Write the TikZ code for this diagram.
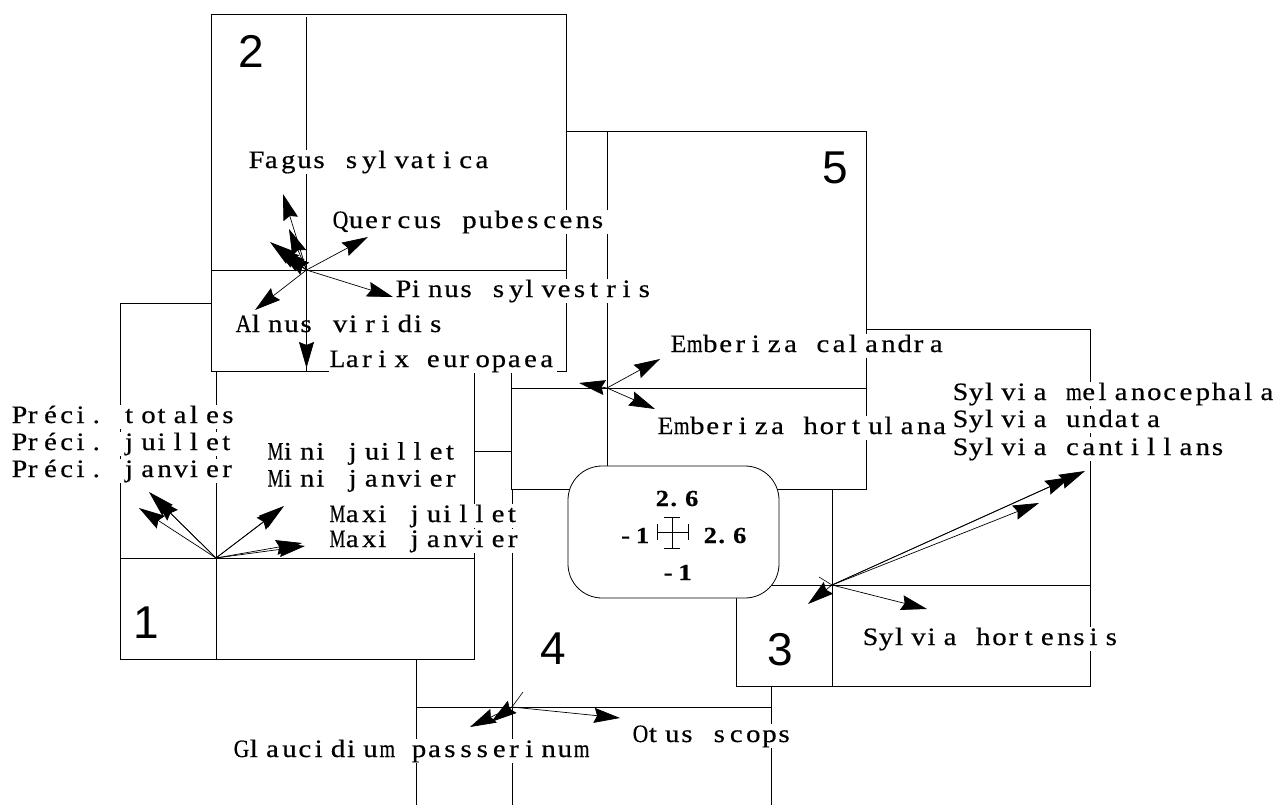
\documentclass[tikz,border=0pt]{standalone}
\usepackage{fontspec}
\setmainfont{Liberation Serif}
\newfontfamily\labfont[FakeBold=0.5]{Liberation Serif}
\newfontfamily\numfont{Liberation Sans}
\usetikzlibrary{arrows.meta}

% Typeset a string on a fixed character grid: every glyph is widened a little,
% sits at the left of a cell of width #1 and is squeezed if it would overflow.
\ExplSyntaxOn
\box_new:N \l_cell_box
\dim_new:N \l_cell_dim
\cs_new_protected:Npn \celltext #1 #2
 {
   \dim_set:Nn \l_cell_dim {#1}
   \str_map_inline:nn {#2}
    {
      \hbox_set:Nn \l_cell_box {##1}
      \dim_compare:nNnT { \box_wd:N \l_cell_box } > { 0.5pt }
       {
         \box_scale:Nnn \l_cell_box
          { min ( 1.15 , ( \dim_to_fp:n { \l_cell_dim } - 0.6 ) / \dim_to_fp:n { \box_wd:N \l_cell_box } ) }
          { 1 }
       }
      \hbox_to_wd:nn { \l_cell_dim } { \box_use:N \l_cell_box \hfil }
    }
 }
\ExplSyntaxOff

\tikzset{
  frame/.style={draw=black, fill=white, line width=0.8pt},
  axis/.style={draw=black, line width=0.8pt},
  lab/.style={font=\labfont\fontsize{25}{25}\selectfont, fill=white,
    inner xsep=0.5pt, inner ysep=0pt, anchor=base west, text height=18pt, text depth=6pt},
  leg/.style={font=\labfont\bfseries\fontsize{23}{23}\selectfont, inner sep=0pt, anchor=base west},
  num/.style={font=\numfont\fontsize{46}{46}\selectfont, inner sep=0pt},
  vec/.style={line width=0.7pt, -{Stealth[length=26pt,width=15pt,inset=3pt]}},
  stub/.style={line width=0.6pt},
}
\newcommand{\lbl}[1]{\celltext{16.2pt}{#1}}
\newcommand{\lgd}[1]{\celltext{14.7pt}{#1}}

\begin{document}
\begin{tikzpicture}[x=1pt,y=-1pt]
\useasboundingbox (0,0) rectangle (1276,805);
\clip (0,0) rectangle (1276,805);

% ---------- panel 4 ----------
\draw[frame] (416,451) rectangle (771,830);
\draw[axis] (512,451) -- (512,830);
\draw[axis] (416,707) -- (771,707);
\coordinate (o4) at (512,707);
\node[lab] (glau) at (233,757) {\lbl{Glaucidium passserinum}};
\node[lab] (otus) at (632,742) {\lbl{Otus scops}};
\node[num] (n4) at (553,649) {4};
\coordinate (t4a) at (620,718);
\coordinate (t4b) at (470,727);
\coordinate (t4c) at (491,722);
\coordinate (t4d) at (523,692);
\draw[vec] (o4) -- (t4a);
\draw[vec] (o4) -- (t4b);
\draw[vec] (o4) -- (t4c);
\draw[stub] (o4) -- (t4d);

% ---------- panel 1 ----------
\draw[frame] (120,303) rectangle (474,659);
\draw[axis] (216,303) -- (216,659);
\draw[axis] (120,558) -- (474,558);
\coordinate (o1) at (216,558);
\node[lab] (p1) at (11,423) {\lbl{Préci. totales}};
\node[lab] (p2) at (11,450) {\lbl{Préci. juillet}};
\node[lab] (p3) at (11,477) {\lbl{Préci. janvier}};
\node[lab] (mi1) at (267,459.5) {\lbl{Mini juillet}};
\node[lab] (mi2) at (267,486.5) {\lbl{Mini janvier}};
\node[lab] (ma1) at (329,522) {\lbl{Maxi juillet}};
\node[lab] (ma2) at (329,547) {\lbl{Maxi janvier}};
\node[num] (n1) at (146,623) {1};
\coordinate (t1a) at (139,508);
\coordinate (t1b) at (149,492);
\coordinate (t1c) at (154,497);
\coordinate (t1d) at (284,506);
\coordinate (t1e) at (282,508);
\coordinate (t1f) at (305,546);
\coordinate (t1g) at (302,543);
\foreach \t in {t1a,t1b,t1c,t1d,t1e,t1f,t1g} \draw[vec] (o1) -- (\t);

% ---------- panel 3 ----------
\draw[frame] (736,329) rectangle (1090,686);
\draw[axis] (832,329) -- (832,686);
\draw[axis] (736,585) -- (1090,585);
\coordinate (o3) at (832,585);
\node[lab] (s1) at (952,400) {\lbl{Sylvia melanocephala}};
\node[lab] (s2) at (952,427) {\lbl{Sylvia undata}};
\node[lab] (s3) at (952,455) {\lbl{Sylvia cantillans}};
\node[lab] (s4) at (862,645) {\lbl{Sylvia hortensis}};
\node[num] (n3) at (780,650) {3};
\coordinate (t3a) at (1085,471);
\coordinate (t3b) at (1071,477);
\coordinate (t3c) at (1039,503);
\coordinate (t3d) at (927,609);
\coordinate (t3e) at (808,604);
\coordinate (t3f) at (819,577);
\foreach \t in {t3a,t3b,t3c,t3d,t3e} \draw[vec] (o3) -- (\t);
\draw[stub] (o3) -- (t3f);

% ---------- panel 5 ----------
\draw[frame] (511,131) rectangle (866,489);
\draw[axis] (607,131) -- (607,489);
\draw[axis] (511,388) -- (866,388);
\coordinate (o5) at (607,388);
\node[lab] (e1) at (670,352) {\lbl{Emberiza calandra}};
\node[lab] (e2) at (657,434) {\lbl{Emberiza hortulana}};
\node[num] (n5) at (835,168) {5};
\coordinate (t5a) at (660,359);
\coordinate (t5b) at (655,409);
\coordinate (t5c) at (579,383);
\foreach \t in {t5a,t5b,t5c} \draw[vec] (o5) -- (\t);

% ---------- panel 2 ----------
\draw[frame] (211,14) rectangle (566,371);
\draw[axis] (306.5,17) -- (306.5,371);
\draw[axis] (211,270) -- (566,270);
\coordinate (o2) at (306.5,270);
\node[lab] (fag) at (248,168) {\lbl{Fagus sylvatica}};
\node[lab] (que) at (332,228) {\lbl{Quercus pubescens}};
\node[lab] (pin) at (395,297) {\lbl{Pinus sylvestris}};
\node[lab] (aln) at (235,332) {\lbl{Alnus viridis}};
\node[lab] (lar) at (329,367) {\lbl{Larix europaea}};
\node[num] (n2) at (251,51) {2};
\coordinate (t2a) at (283,194);
\coordinate (t2b) at (289,229);
\coordinate (t2c) at (270,242);
\coordinate (t2d) at (274,246);
\coordinate (t2e) at (279,250);
\coordinate (t2f) at (284,253);
\coordinate (t2g) at (368,237);
\coordinate (t2h) at (393,297);
\coordinate (t2i) at (255,310);
\coordinate (t2j) at (306.5,368);
\foreach \t in {t2a,t2b,t2c,t2d,t2e,t2f,t2g,t2h,t2i,t2j} \draw[vec] (o2) -- (\t);

% ---------- scale legend ----------
\draw[frame, rounded corners=34pt] (568,466) rectangle (779,598);
\coordinate (c) at (672,532);
\draw[line width=0.7pt] (657,532) -- (688,532) (672,517) -- (672,548)
  (657,524) -- (657,540) (688,524) -- (688,540)
  (664,517) -- (680,517) (664,548) -- (680,548);
\node[leg] (ytop) at (655.5,506) {\lgd{2.6}};
\node[leg] (xleft) at (621,543) {\lgd{-1}};
\node[leg] (xright) at (703.5,543) {\lgd{2.6}};
\node[leg] (ybot) at (663.5,580) {\lgd{-1}};
\end{tikzpicture}
\end{document}
